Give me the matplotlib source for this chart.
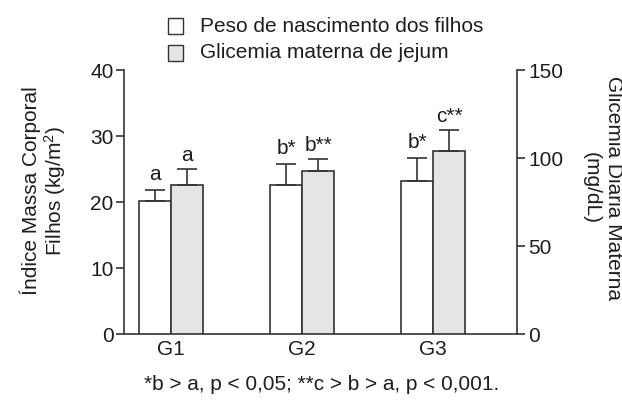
import matplotlib
matplotlib.use("Agg")
import matplotlib.pyplot as plt
import numpy as np
from matplotlib.patches import Rectangle

plt.rcParams['font.family'] = ['Liberation Sans', 'DejaVu Sans']
plt.rcParams['mathtext.fontset'] = 'custom'
plt.rcParams['mathtext.rm'] = 'Liberation Sans'
plt.rcParams['mathtext.it'] = 'Liberation Sans'

groups = ["G1", "G2", "G3"]
imc = [20.2, 22.6, 23.2]          # kg/m2 (left axis)
imc_err = [1.7, 3.2, 3.5]
glic = [84.7, 92.7, 104.0]        # mg/dL (right axis)
glic_err = [9.3, 6.8, 11.7]
imc_labels = ["a", "b*", "b*"]
glic_labels = ["a", "b**", "c**"]
left_ticks = [0, 10, 20, 30, 40]
right_ticks = [0, 50, 100, 150]

edge = "#333333"
txt = "#1e1e1e"
grey = "#e4e5e6"
fs = 15

fig = plt.figure(figsize=(6.22, 4.04), dpi=100)
ax = fig.add_axes([124/622, 1-334.3/404, (517-124)/622, (334.3-70)/404])
ax2 = ax.twinx()

x = np.arange(len(groups))
w = 0.245
ax.bar(x - w/2, imc, width=w, color="white", edgecolor=edge, linewidth=1.2,
       yerr=[np.zeros(3), imc_err], capsize=7,
       error_kw=dict(ecolor=edge, elinewidth=1.2, capthick=1.2), zorder=3)
ax2.bar(x + w/2, glic, width=w, color=grey, edgecolor=edge, linewidth=1.2,
        yerr=[np.zeros(3), glic_err], capsize=7,
        error_kw=dict(ecolor=edge, elinewidth=1.2, capthick=1.2), zorder=3)

for i in range(3):
    ax.annotate(imc_labels[i], (x[i] - w/2, imc[i] + imc_err[i]), xytext=(0, 4),
                textcoords="offset points", ha="center", va="bottom",
                fontsize=fs, color=txt)
    ax2.annotate(glic_labels[i], (x[i] + w/2, glic[i] + glic_err[i]), xytext=(0, 3),
                 textcoords="offset points", ha="center", va="bottom",
                 fontsize=fs, color=txt)

ax.set_xlim(-0.36, 2.64)
ax.set_ylim(0, 40)
ax2.set_ylim(0, 150)
ax.set_yticks(left_ticks)
ax2.set_yticks(right_ticks)
ax.set_xticks(x)
ax.set_xticklabels(groups)

for a in (ax, ax2):
    for s in a.spines.values():
        s.set_color(edge)
        s.set_linewidth(1.2)
    a.spines['top'].set_visible(False)
ax.spines['right'].set_visible(False)
ax2.spines['left'].set_visible(False)
ax2.spines['bottom'].set_visible(False)

ax.tick_params(axis='y', direction='out', length=6, width=1.2, color=edge,
               labelsize=fs, labelcolor=txt, pad=1.5)
ax.tick_params(axis='x', length=0, labelsize=fs, labelcolor=txt, pad=4)
ax2.tick_params(axis='y', direction='out', length=6, width=1.2, color=edge,
                labelsize=fs, labelcolor=txt, pad=2)

fig.text(44/622, 1-191/404, "Índice Massa Corporal\nFilhos (kg/m$^2$)", rotation=90,
         ha="center", va="center", fontsize=fs, color=txt, multialignment="center",
         linespacing=1.05)
fig.text(602/622, 1-188/404, "Glicemia Diaria Materna\n(mg/dL)", rotation=-90,
         ha="center", va="center", fontsize=fs, color=txt, multialignment="center",
         linespacing=1.2)

# legend
for yc, fc, lab in [(26, "white", "Peso de nascimento dos filhos"),
                    (53, grey, "Glicemia materna de jejum")]:
    fig.patches.append(Rectangle((168/622, 1-(yc+8)/404), 15/622, 16/404,
                                 transform=fig.transFigure, facecolor=fc,
                                 edgecolor=edge, linewidth=1.0))
    fig.text(200/622, 1-yc/404, lab, ha="left", va="center", fontsize=fs, color=txt)

fig.text(322/622, 1-385/404, "*b > a, p < 0,05; **c > b > a, p < 0,001.",
         ha="center", va="center", fontsize=fs, color=txt)

fig.savefig("out.png", dpi=100, facecolor="white")
